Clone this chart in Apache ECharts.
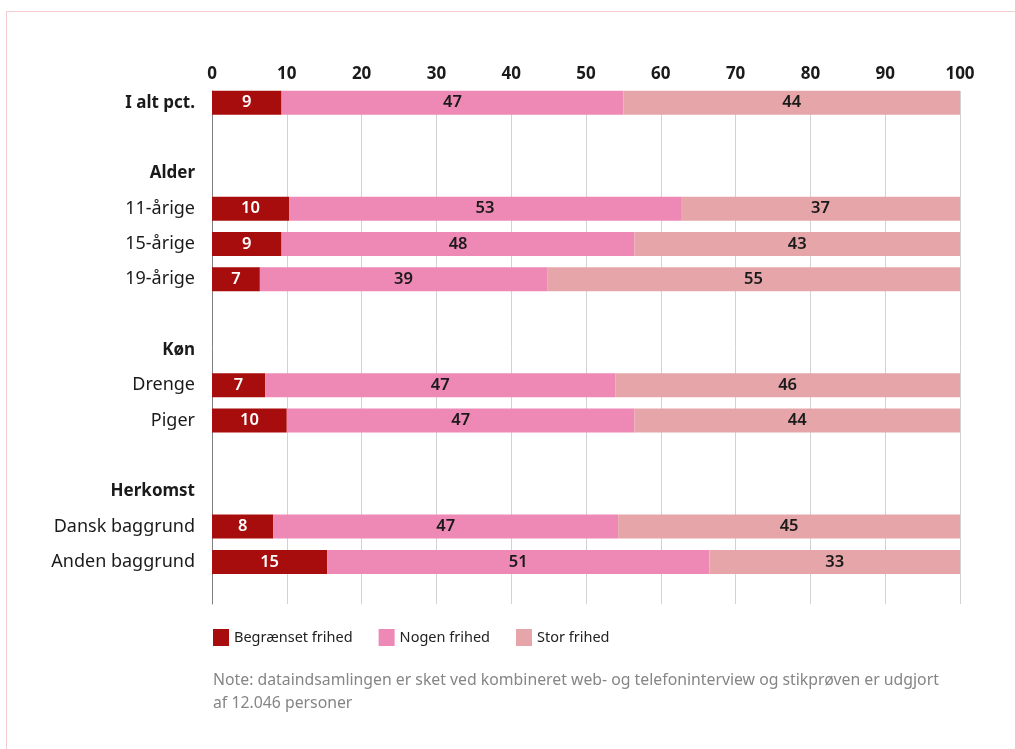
<!DOCTYPE html>
<html>
<head>
<meta charset="utf-8">
<script src="https://cdn.jsdelivr.net/npm/echarts@6/dist/echarts.min.js"></script>
<style>
  html, body { margin: 0; padding: 0; background: #fff; }
  #frame { position: absolute; left: 6px; top: 11px; width: 1100px; height: 800px;
           border-top: 1px solid #f3cdd1; border-left: 1px solid #f3cdd1; }
  #chart { position: absolute; left: 0; top: 0; width: 1015px; height: 749px; }
</style>
</head>
<body>
<div id="frame"></div>
<div id="chart"></div>
<script>
const categories = ['I alt pct.', ' ', 'Alder', '11-årige', '15-årige', '19-årige', '  ',
  'Køn', 'Drenge', 'Piger', '   ', 'Herkomst', 'Dansk baggrund', 'Anden baggrund'];
const boldLabels = ['I alt pct.', 'Alder', 'Køn', 'Herkomst'];
// bar lengths as drawn
const begraenset = [9.3, null, null, 10.3, 9.3, 6.4, null, null, 7.1, 10.0, null, null, 8.2, 15.4];
const nogen = [45.7, null, null, 52.4, 47.2, 38.4, null, null, 46.8, 46.5, null, null, 46.1, 51.1];
const stor = [45.0, null, null, 37.3, 43.5, 55.2, null, null, 46.1, 43.5, null, null, 45.7, 33.5];
// printed numbers
const begraensetLabels = [9, null, null, 10, 9, 7, null, null, 7, 10, null, null, 8, 15];
const nogenLabels = [47, null, null, 53, 48, 39, null, null, 47, 47, null, null, 47, 51];
const storLabels = [44, null, null, 37, 43, 55, null, null, 46, 44, null, null, 45, 33];
const seriesNames = ['Begrænset frihed', 'Nogen frihed', 'Stor frihed'];

const font = '"Noto Sans", sans-serif';
const chart = echarts.init(document.getElementById('chart'));

const makeSeries = (name, data, labels, color, labelColor) => ({
  name: name,
  type: 'bar',
  stack: 'total',
  xAxisIndex: 0,
  yAxisIndex: 0,
  barWidth: 24,
  data: data,
  itemStyle: { color: color },
  label: {
    show: true,
    position: 'inside',
    color: labelColor,
    fontFamily: font,
    fontSize: 16.5,
    fontWeight: 600,
    formatter: (p) => String(labels[p.dataIndex])
  }
});

chart.setOption({
  animation: false,
  textStyle: { fontFamily: font },
  title: {
    text: 'Note: dataindsamlingen er sket ved kombineret web- og telefoninterview og stikprøven er udgjort\naf 12.046 personer',
    left: 208,
    top: 664,
    textStyle: { color: '#858585', fontSize: 15.8, fontWeight: 'normal', lineHeight: 23, fontFamily: font }
  },
  legend: {
    left: 208,
    top: 624,
    icon: 'rect',
    itemWidth: 16,
    itemHeight: 17,
    itemGap: 26,
    data: seriesNames,
    textStyle: { color: '#222', fontSize: 14.5, fontFamily: font }
  },
  grid: [
    { left: 212, right: 55, top: 85, height: 494.6 },
    { left: 212, right: 55, top: 91, bottom: 145 }
  ],
  xAxis: [
    {
      gridIndex: 0,
      type: 'value',
      position: 'top',
      min: 0,
      max: 100,
      interval: 10,
      axisLine: { show: false },
      axisTick: { show: false },
      splitLine: { show: false },
      axisLabel: {
        margin: 2,
        color: '#1a1a1a',
        fontSize: 17,
        fontWeight: 'bold',
        fontFamily: font
      }
    },
    {
      gridIndex: 1,
      type: 'value',
      min: 0,
      max: 100,
      interval: 10,
      axisLine: { show: false },
      axisTick: { show: false },
      axisLabel: { show: false },
      splitLine: { show: true, lineStyle: { color: '#d2d2d2', width: 1 } }
    }
  ],
  yAxis: [
    {
      gridIndex: 0,
      type: 'category',
      inverse: true,
      data: categories,
      axisLine: { show: false },
      axisTick: { show: false },
      axisLabel: {
        margin: 17,
        fontSize: 18,
        fontFamily: font,
        color: '#1a1a1a',
        formatter: (v) => boldLabels.includes(v) ? '{b|' + v + '}' : v,
        rich: { b: { fontWeight: 'bold', fontSize: 17, fontFamily: font, color: '#1a1a1a' } }
      }
    },
    {
      gridIndex: 1,
      type: 'value',
      min: 0,
      max: 1,
      axisLine: { show: true, lineStyle: { color: '#808080', width: 1 } },
      axisTick: { show: false },
      axisLabel: { show: false },
      splitLine: { show: false }
    }
  ],
  series: [
    makeSeries(seriesNames[0], begraenset, begraensetLabels, '#a80d0d', '#ffffff'),
    makeSeries(seriesNames[1], nogen, nogenLabels, '#ee88b5', '#1a1a1a'),
    makeSeries(seriesNames[2], stor, storLabels, '#e6a6a9', '#1a1a1a')
  ]
});
</script>
</body>
</html>
